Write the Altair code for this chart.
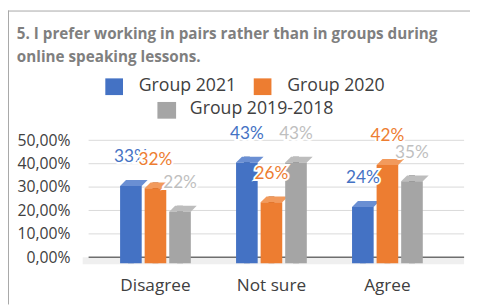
import altair as alt
import pandas as pd

# ---- data ----
categories = ["Disagree", "Not sure", "Agree"]
series = ["Group 2021", "Group 2020", "Group 2019-2018"]
group_2021 = [0.33, 0.43, 0.24]
group_2020 = [0.32, 0.26, 0.42]
group_2019_2018 = [0.22, 0.43, 0.35]
y_ticks = [0.0, 0.1, 0.2, 0.3, 0.4, 0.5]
title_lines = ["5. I prefer working in pairs rather than in groups during",
               "online speaking lessons."]

rows = []
for s, vals in zip(series, [group_2021, group_2020, group_2019_2018]):
    for c, v in zip(categories, vals):
        rows.append({"category": c, "series": s, "value": v})
df = pd.DataFrame(rows)
one = pd.DataFrame({"k": [0]})
grid_df = pd.DataFrame({"value": y_ticks[1:]})
zero_df = pd.DataFrame({"value": [0.0]})

# ---- styles ----
front = ["#4472C4", "#ED7D31", "#A5A5A5"]
side = ["#2F5597", "#B4591F", "#6E6E6E"]
topc = ["#6A8FD3", "#F29A5C", "#BDBDBD"]
label_colors = ["#4472C4", "#ED7D31", "#BFBFBF"]
FONT = "Lato"
FONT2 = "Open Sans"
W, H = 372, 119

faces = ["front", "side", "top"]
color_domain = [f + "|" + s for f in faces for s in series]
color_range = front + side + topc
color_scale = alt.Scale(domain=color_domain, range=color_range)

x_enc = alt.X("category:N", sort=categories,
              scale=alt.Scale(domain=categories, paddingInner=0.39, paddingOuter=0.2715),
              axis=alt.Axis(title=None, ticks=False, domain=False, labelFont=FONT2,
                            labelFontSize=17.5, labelColor="#404040", labelPadding=29,
                            labelBaseline="middle", labelAngle=0))
xo_enc = alt.XOffset("series:N", scale=alt.Scale(domain=series, paddingInner=0.12, paddingOuter=0))
y_axis = alt.Axis(title=None, values=y_ticks, grid=False, ticks=False, domain=False,
                  labelExpr="replace(format(datum.value, '.2%'), '.', ',')",
                  labelFont=FONT2, labelFontSize=16, labelColor="#404040",
                  labelPadding=19, labelOverlap=False, labelBaseline="middle")
y_scale = alt.Scale(domain=[0, 0.5], nice=False, zero=True)
y_enc = alt.Y("value:Q", scale=y_scale, axis=y_axis)


def face_chart(face):
    return alt.Chart(df).transform_calculate(key="'" + face + "|' + datum.series")


color_enc = alt.Color("key:N", scale=color_scale, legend=None)

frame_left = alt.Chart(one).mark_rule(color="#A6A6A6", strokeWidth=1).encode(
    x=alt.value(-81.5), y=alt.value(-132), y2=alt.value(167))
frame_top = alt.Chart(one).mark_rule(color="#A6A6A6", strokeWidth=1).encode(
    x=alt.value(-82), x2=alt.value(388), y=alt.value(-131.5))
floor = alt.Chart(one).mark_rect(color="#EFEFEF").encode(
    x=alt.value(-6), x2=alt.value(382), y=alt.value(H), y2=alt.value(H + 7))
grid = alt.Chart(grid_df).mark_rule(color="#D9D9D9", strokeWidth=1).encode(
    y=y_enc, x=alt.value(0), x2=alt.value(382))
zero = alt.Chart(zero_df).mark_rule(color="#6E6E6E", strokeWidth=1.5).encode(
    y=y_enc, x=alt.value(0), x2=alt.value(382))

sides = face_chart("side").mark_bar(width=6, xOffset=14, y2Offset=6).encode(
    x=x_enc, xOffset=xo_enc, y=y_enc, y2=alt.datum(0), color=color_enc)
tops = face_chart("top").mark_point(shape="M-11,0L11,0L17,-6L-5,-6Z", size=4, filled=True,
                                    opacity=1, strokeWidth=0, yOffset=6).encode(
    x=x_enc, xOffset=xo_enc, y=y_enc, color=color_enc)
fronts = face_chart("front").mark_bar(yOffset=6, y2Offset=6).encode(
    x=x_enc, xOffset=xo_enc, y=y_enc, y2=alt.datum(0), color=color_enc)

label_layers = []
for s, col in zip(series, label_colors):
    base = alt.Chart(df).transform_filter(alt.datum.series == s).transform_calculate(
        label="format(datum.value, '.0%')")
    halo = base.mark_text(dy=-23, font=FONT, fontSize=17.5, baseline="middle",
                          stroke="white", strokeWidth=4, fill="white").encode(
        x=x_enc, xOffset=xo_enc, y=y_enc, text="label:N")
    txt = base.mark_text(dy=-23, font=FONT, fontSize=17.5, baseline="middle", color=col).encode(
        x=x_enc, xOffset=xo_enc, y=y_enc, text="label:N")
    label_layers += [halo, txt]

# legend (manual, two centred rows)
legend_pos = [(17, 35, -63, -46, 51, -55), (168, 186, -63, -46, 202, -55), (70, 89, -39, -22, 103, -32)]
legend_layers = []
for s, col, (x1, x2, y1, y2, tx, ty) in zip(series, front, legend_pos):
    legend_layers.append(alt.Chart(one).mark_rect(color=col).encode(
        x=alt.value(x1), x2=alt.value(x2), y=alt.value(y1), y2=alt.value(y2)))
    legend_layers.append(alt.Chart(one).mark_text(align="left", baseline="middle", font=FONT2,
                                                  fontSize=18, color="#404040").encode(
        x=alt.value(tx), y=alt.value(ty), text=alt.value(s)))

title_layers = []
for line, ty in zip(title_lines, [-108, -85]):
    title_layers.append(alt.Chart(one).mark_text(align="left", baseline="middle", font=FONT2,
                                                 fontSize=15.5, fontWeight="bold",
                                                 color="#7F7F7F").encode(
        x=alt.value(-73), y=alt.value(ty), text=alt.value(line)))

chart = alt.layer(
    frame_left, frame_top, floor, grid, zero, sides, tops, fronts,
    *label_layers, *legend_layers, *title_layers
).properties(
    width=W, height=H,
    background="white",
    autosize=alt.AutoSizeParams(type="none"),
    padding={"left": 82, "top": 132, "right": 16, "bottom": 48},
).configure_view(stroke=None)

chart.save("out.html", embed_options={"renderer": "svg", "actions": False})
